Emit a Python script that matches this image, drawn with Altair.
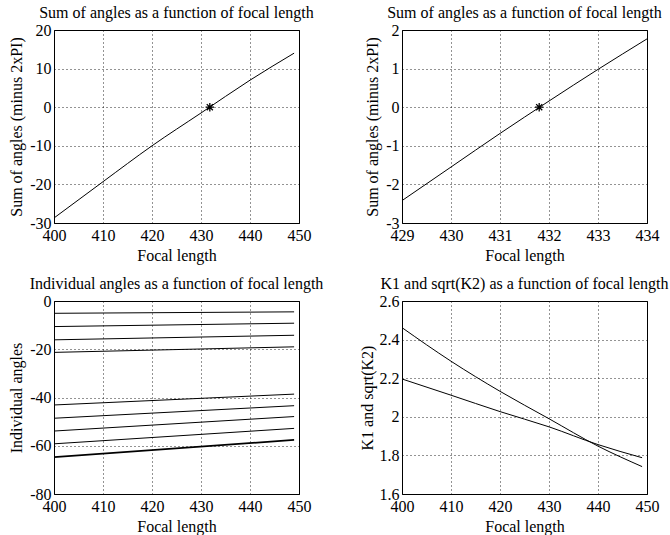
import altair as alt
import pandas as pd

FONT = "Liberation Serif"
FS = 16

# ---------------- data ----------------
# Panel 1: sum of angles vs focal length (wide range)
p1_focal = [400, 410, 420, 430, 440, 449]
p1_sum = [-28.7, -19.3, -10.0, -1.5, 7.0, 14.0]
p1_root_focal = [431.8]
p1_root_sum = [0.0]

# Panel 2: sum of angles vs focal length (zoomed)
p2_focal = [429, 430, 431, 432, 433, 434]
p2_sum = [-2.42, -1.55, -0.68, 0.16, 0.98, 1.77]
p2_root_focal = [431.8]
p2_root_sum = [0.0]

# Panel 3: individual angles (start at 400, end at 449)
p3_focal = [400, 449]
p3_angle_start = [-5.1, -10.6, -16.1, -21.3, -43.1, -48.6, -53.9, -59.2, -64.7]
p3_angle_end = [-4.5, -9.2, -14.2, -19.0, -38.6, -43.4, -47.9, -52.8, -57.6]

# Panel 4: K1 and sqrt(K2)
p4_focal = [400, 410, 420, 430, 440, 449]
p4_k1 = [2.462, 2.288, 2.132, 1.990, 1.848, 1.742]
p4_sqrt_k2 = [2.196, 2.112, 2.027, 1.948, 1.856, 1.788]

# tick values
x_ticks_wide = [400, 410, 420, 430, 440, 450]
x_ticks_zoom = [429, 430, 431, 432, 433, 434]
y_ticks_p1 = [-30, -20, -10, 0, 10, 20]
y_ticks_p2 = [-3, -2, -1, 0, 1, 2]
y_ticks_p3 = [-80, -60, -40, -20, 0]
y_ticks_p4 = [1.6, 1.8, 2.0, 2.2, 2.4, 2.6]

# ---------------- helpers ----------------
W, H = 245, 193
LBL = "'' + datum.value"
STAR = "M-1,0L1,0M0,-1L0,1M-0.72,-0.72L0.72,0.72M-0.72,0.72L0.72,-0.72"


def enc(xdom, xvals, ydom, yvals, ytitle, ytitle_x):
    x = alt.X("f:Q",
              scale=alt.Scale(domain=xdom, nice=False, zero=False),
              axis=alt.Axis(values=xvals, title="Focal length", labelExpr=LBL,
                            titleY=32, titleBaseline="middle"))
    y = alt.Y("v:Q",
              scale=alt.Scale(domain=ydom, nice=False, zero=False),
              axis=alt.Axis(values=yvals, title=ytitle, labelExpr=LBL,
                            titleX=ytitle_x, titleY=H / 2, titleBaseline="middle"))
    return x, y


def line_layer(df, x, y, width=1.0, detail=None):
    kw = dict(x=x, y=y)
    if detail:
        kw["detail"] = detail
    return alt.Chart(df).mark_line(color="black", strokeWidth=width, clip=True,
                                   interpolate="monotone").encode(**kw)


def star_layer(df, x, y):
    return alt.Chart(df).mark_point(shape=STAR, size=72, color="black",
                                    filled=False, strokeWidth=1.3,
                                    opacity=1).encode(x=x, y=y)


# Panel 1
x1, y1 = enc([400, 450], x_ticks_wide, [-30, 20], y_ticks_p1,
             "Sum of angles (minus 2xPI)", -38)
df1 = pd.DataFrame({"f": p1_focal, "v": p1_sum})
r1 = pd.DataFrame({"f": p1_root_focal, "v": p1_root_sum})
c1 = alt.layer(line_layer(df1, x1, y1), star_layer(r1, x1, y1)).properties(
    width=W, height=H, title="Sum of angles as a function of focal length")

# Panel 2
x2, y2 = enc([429, 434], x_ticks_zoom, [-3, 2], y_ticks_p2,
             "Sum of angles (minus 2xPI)", -30)
df2 = pd.DataFrame({"f": p2_focal, "v": p2_sum})
r2 = pd.DataFrame({"f": p2_root_focal, "v": p2_root_sum})
c2 = alt.layer(line_layer(df2, x2, y2), star_layer(r2, x2, y2)).properties(
    width=W, height=H, title="Sum of angles as a function of focal length")

# Panel 3
x3, y3 = enc([400, 450], x_ticks_wide, [-80, 0], y_ticks_p3,
             "Individual angles", -38)
rows = []
for i, (s, e) in enumerate(zip(p3_angle_start, p3_angle_end)):
    rows.append({"f": p3_focal[0], "v": s, "k": i})
    rows.append({"f": p3_focal[1], "v": e, "k": i})
df3 = pd.DataFrame(rows)
n3 = len(p3_angle_start)
c3 = alt.layer(
    line_layer(df3[df3.k < n3 - 1], x3, y3, 1.0, "k:N"),
    line_layer(df3[df3.k == n3 - 1], x3, y3, 1.7, "k:N"),
).properties(width=W, height=H, title="Individual angles as a function of focal length")

# Panel 4
x4, y4 = enc([400, 450], x_ticks_wide, [1.6, 2.6], y_ticks_p4,
             "K1 and sqrt(K2)", -35)
df4 = pd.DataFrame({"f": p4_focal * 2, "v": p4_k1 + p4_sqrt_k2,
                    "k": ["K1"] * len(p4_focal) + ["sqrt(K2)"] * len(p4_focal)})
c4 = line_layer(df4, x4, y4, 1.0, "k:N").properties(
    width=W, height=H, title="K1 and sqrt(K2) as a function of focal length")

chart = alt.concat(c1, c2, c3, c4, columns=2,
                   spacing=alt.RowColnumber(row=78, column=103),
                   bounds="flush").properties(
    padding={"left": 7, "top": 4, "right": 0, "bottom": 0}
).configure_view(
    stroke="black", strokeWidth=1
).configure_axis(
    labelFont=FONT, labelFontSize=FS, labelColor="black",
    titleFont=FONT, titleFontSize=FS, titleColor="black", titleFontWeight="normal",
    grid=True, gridColor="black", gridDash=[1, 3], gridWidth=1, gridOpacity=0.85,
    domain=False, ticks=False, labelFlush=False, labelOverlap=False,
    labelPadding=4,
).configure_axisY(labelPadding=3).configure_title(
    font=FONT, fontSize=FS, fontWeight="normal", color="black",
    baseline="alphabetic", offset=1.5, anchor="middle"
)

chart.save("out.html", embed_options={"renderer": "svg", "actions": False})
